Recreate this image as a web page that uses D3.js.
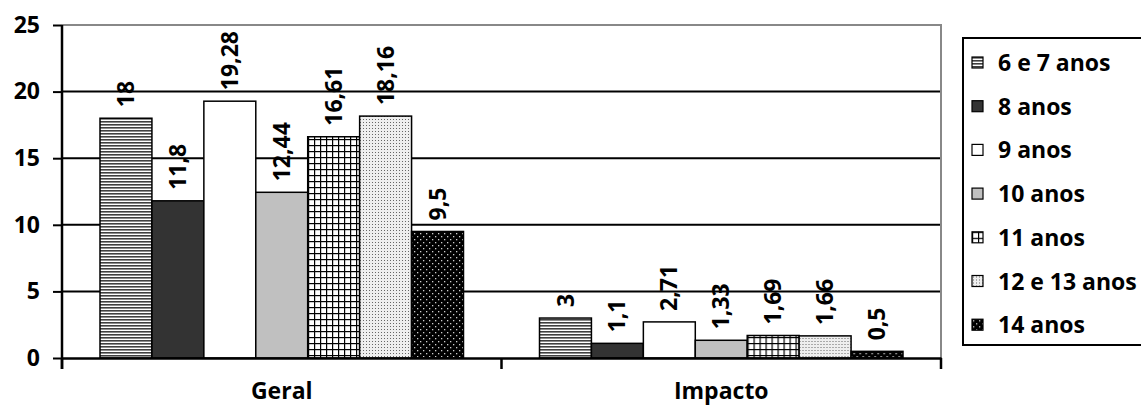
<!DOCTYPE html>
<html>
<head>
<meta charset="utf-8">
<script src="https://cdn.jsdelivr.net/npm/d3@7"></script>
<style>
  body { margin: 0; background: #fff; }
  text { font-family: "Open Sans", sans-serif; font-weight: 700; fill: #000; }
</style>
</head>
<body>
<svg id="chart" width="1141" height="416"></svg>
<script>
const categories = ["Geral", "Impacto"]
const series = ["6 e 7 anos", "8 anos", "9 anos", "10 anos", "11 anos", "12 e 13 anos", "14 anos"]
const geralValues = [18, 11.8, 19.28, 12.44, 16.61, 18.16, 9.5]
const impactoValues = [3, 1.1, 2.71, 1.33, 1.69, 1.66, 0.5]
const yTicks = [0, 5, 10, 15, 20, 25]

const margin = {top: 25, left: 62, right: 200, bottom: 58}
const width = 941 - margin.left, height = 358 - margin.top
const fontSize = "23px"

const svg = d3.select("#chart")
const defs = svg.append("defs")

// fill patterns, one per age group
function pat(id, w, h, bg) {
  const p = defs.append("pattern").attr("id", id).attr("patternUnits", "userSpaceOnUse")
    .attr("width", w).attr("height", h)
  p.append("rect").attr("width", w).attr("height", h).attr("fill", bg)
  return p
}
let p = pat("p0", 4, 3, "#8c8c8c")
p.append("rect").attr("y", 0).attr("width", 4).attr("height", 1).attr("fill", "#404040")
p.append("rect").attr("y", 2).attr("width", 4).attr("height", 1).attr("fill", "#ffffff")
p = pat("p4", 6, 6, "#fff")
p.append("rect").attr("width", 6).attr("height", 1.2).attr("fill", "#000")
p.append("rect").attr("width", 1.2).attr("height", 6).attr("fill", "#000")
p = pat("p5", 3, 3, "#eeeeee")
p.append("rect").attr("x", 1).attr("y", 1).attr("width", 1).attr("height", 1).attr("fill", "#666")
p = pat("p6", 6, 6, "#000")
p.append("rect").attr("x", 1).attr("y", 1).attr("width", 1.3).attr("height", 1.3).attr("fill", "#ccc")
p.append("rect").attr("x", 4).attr("y", 4).attr("width", 1.3).attr("height", 1.3).attr("fill", "#ccc")

const fills = ["url(#p0)", "#333333", "#ffffff", "#c0c0c0", "url(#p4)", "url(#p5)", "url(#p6)"]

const x0 = d3.scaleBand().domain(categories).range([0, width])
const x1 = d3.scaleBand().domain(series).range([38, x0.bandwidth() - 38])
const y = d3.scaleLinear().domain([0, 25]).range([height, 0])

const g = svg.append("g").attr("transform", "translate(" + margin.left + "," + margin.top + ")")

// gridlines
g.append("g").selectAll("line").data(yTicks.filter(d => d > 0 && d < 25)).enter().append("line")
  .attr("x1", 0).attr("x2", width).attr("y1", d => y(d)).attr("y2", d => y(d))
  .attr("stroke", "#000").attr("stroke-width", 2)
// gray frame top/right
g.append("path").attr("d", "M0," + y(25) + "H" + width + "V" + height)
  .attr("fill", "none").attr("stroke", "#888").attr("stroke-width", 2)

const data = [geralValues, impactoValues]
const groups = g.selectAll(".grp").data(categories).enter().append("g")
  .attr("transform", d => "translate(" + x0(d) + ",0)")

groups.each(function(cat, ci) {
  const vals = data[ci].map((v, i) => ({s: series[i], v: v, i: i}))
  const gg = d3.select(this)
  gg.selectAll("rect").data(vals).enter().append("rect")
    .attr("x", d => x1(d.s)).attr("width", x1.bandwidth())
    .attr("y", d => y(d.v)).attr("height", d => height - y(d.v))
    .attr("fill", d => fills[d.i]).attr("stroke", "#000").attr("stroke-width", 1.5)
  gg.selectAll("text").data(vals).enter().append("text")
    .attr("transform", d => "translate(" + (x1(d.s) + x1.bandwidth() / 2) + "," + (y(d.v) - 11) + ") rotate(-90)")
    .attr("dy", "0.35em")
    .style("font-size", fontSize)
    .text(d => String(d.v).replace(".", ","))
})

// y axis
const yAxis = d3.axisLeft(y).tickValues(yTicks).tickSize(9).tickPadding(13)
const ya = g.append("g").call(yAxis)
ya.select(".domain").attr("d", "M0,0V" + (height + 11)).attr("stroke", "#000").attr("stroke-width", 2.5)
ya.selectAll(".tick line").attr("stroke", "#000").attr("stroke-width", 2)
ya.selectAll(".tick text").style("font-size", fontSize).style("font-family", "Open Sans").style("font-weight", 700).attr("fill", "#000")

// x axis
const xAxis = d3.axisBottom(x0).tickSize(0).tickPadding(25)
const xa = g.append("g").attr("transform", "translate(0," + height + ")").call(xAxis)
xa.select(".domain").attr("stroke", "#000").attr("stroke-width", 2.5)
xa.selectAll(".tick text").style("font-size", fontSize).style("font-family", "Open Sans").style("font-weight", 700).attr("fill", "#000")
xa.append("g").selectAll("line").data([0, x0.bandwidth(), width]).enter().append("line")
  .attr("x1", d => d).attr("x2", d => d).attr("y1", 0).attr("y2", 11)
  .attr("stroke", "#000").attr("stroke-width", 2.5)

// legend
const leg = svg.append("g").attr("transform", "translate(963,38)")
leg.append("rect").attr("width", 200).attr("height", 307)
  .attr("fill", "#fff").attr("stroke", "#000").attr("stroke-width", 2)
const items = leg.selectAll(".it").data(series).enter().append("g")
  .attr("transform", (d, i) => "translate(9," + (25 + i * 43.7) + ")")
items.append("rect").attr("x", 0).attr("y", -6).attr("width", 11).attr("height", 11)
  .attr("fill", (d, i) => fills[i]).attr("stroke", "#000").attr("stroke-width", 1.2)
items.append("text").attr("x", 26).attr("dy", "0.35em").style("font-size", fontSize).text(d => d)
</script>
</body>
</html>
